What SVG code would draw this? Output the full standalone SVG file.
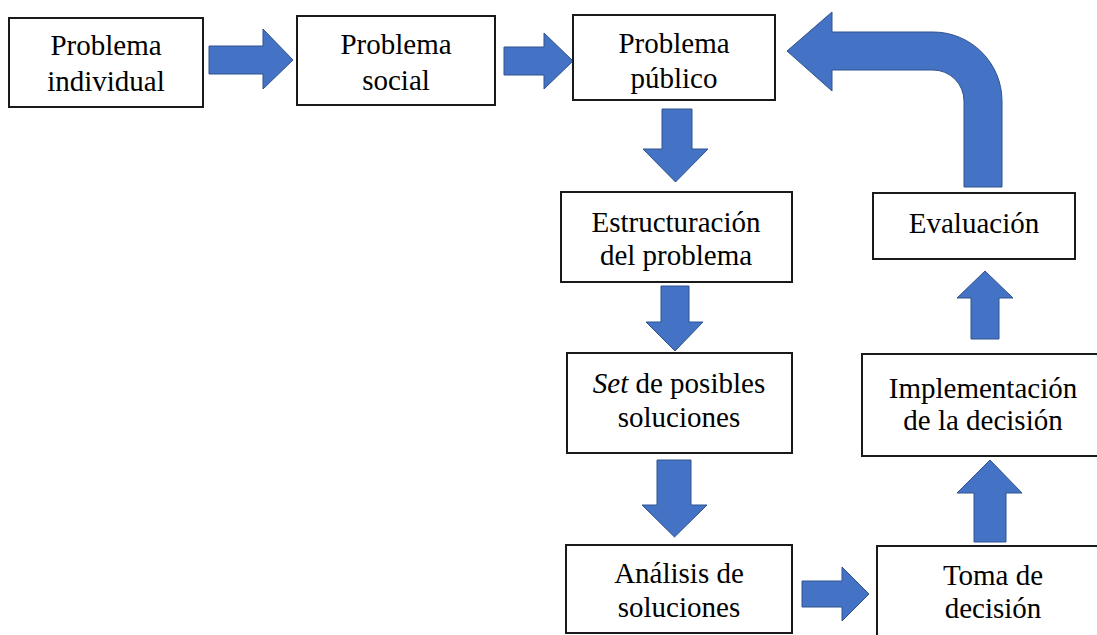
<svg xmlns="http://www.w3.org/2000/svg" width="1097" height="635" viewBox="0 0 1097 635">
<style>
.box{fill:#fff;stroke:#1a1a1a;stroke-width:2}
.t{font-family:'Liberation Serif','Times New Roman',serif;font-size:29px;fill:#000;text-anchor:middle}
.arr{fill:#4472C4;stroke:#2F528F;stroke-width:1}
</style>
<rect width="1097" height="635" fill="#fff"/>
<g id="connectors">
<polygon class="arr" points="209,46 263,46 263,29 293,60 263,89 263,74 209,74"/>
<polygon class="arr" points="504,47 544,47 544,33 573,61 544,89 544,75 504,75"/>
<polygon class="arr" points="662,109 692,109 692,149 708,149 675.5,182 643,149 662,149"/>
<polygon class="arr" points="661,286 689,286 689,322 703,322 675,351 646,322 661,322"/>
<polygon class="arr" points="657,460 691,460 691,505 707,505 674.5,537 642,505 657,505"/>
<polygon class="arr" points="802,581 842,581 842,567 869,594 842,621 842,607 802,607"/>
<polygon class="arr" points="974,542 1006,542 1006,493 1022,493 990,460 957,493 974,493"/>
<polygon class="arr" points="971,339 999,339 999,298 1013,298 985,271 957,298 971,298"/>
<path class="arr" d="M1002,187 L1002,101 A69,69 0 0 0 933,32 L832,32 L832,12 L787,51 L832,91 L832,70 L933,70 A31,31 0 0 1 964,101 L964,187 Z"/>
</g>
<g id="n1"><rect class="box" x="9" y="18" width="194" height="89"/><text class="t" x="106" y="55">Problema</text><text class="t" x="106" y="91">individual</text></g>
<g id="n2"><rect class="box" x="297" y="16" width="198" height="89"/><text class="t" x="396" y="54">Problema</text><text class="t" x="396" y="90">social</text></g>
<g id="n3"><rect class="box" x="573" y="15" width="202" height="85"/><text class="t" x="674" y="53">Problema</text><text class="t" x="674" y="88">público</text></g>
<g id="n4"><rect class="box" x="561" y="192" width="231" height="90"/><text class="t" x="676" y="232">Estructuración</text><text class="t" x="676" y="265">del problema</text></g>
<g id="n5"><rect class="box" x="567" y="353" width="225" height="100"/><text class="t" x="679" y="393"><tspan font-style="italic">Set</tspan> de posibles</text><text class="t" x="679" y="427">soluciones</text></g>
<g id="n6"><rect class="box" x="566" y="545" width="226" height="88"/><text class="t" x="679" y="583">Análisis de</text><text class="t" x="679" y="617">soluciones</text></g>
<g id="n7"><rect class="box" x="877" y="546" width="232" height="95"/><text class="t" x="993" y="585">Toma de</text><text class="t" x="993" y="618">decisión</text></g>
<g id="n8"><rect class="box" x="862" y="354" width="242" height="102"/><text class="t" x="983" y="398">Implementación</text><text class="t" x="983" y="430">de la decisión</text></g>
<g id="n9"><rect class="box" x="873" y="193" width="202" height="66"/><text class="t" x="974" y="233">Evaluación</text></g>
</svg>
